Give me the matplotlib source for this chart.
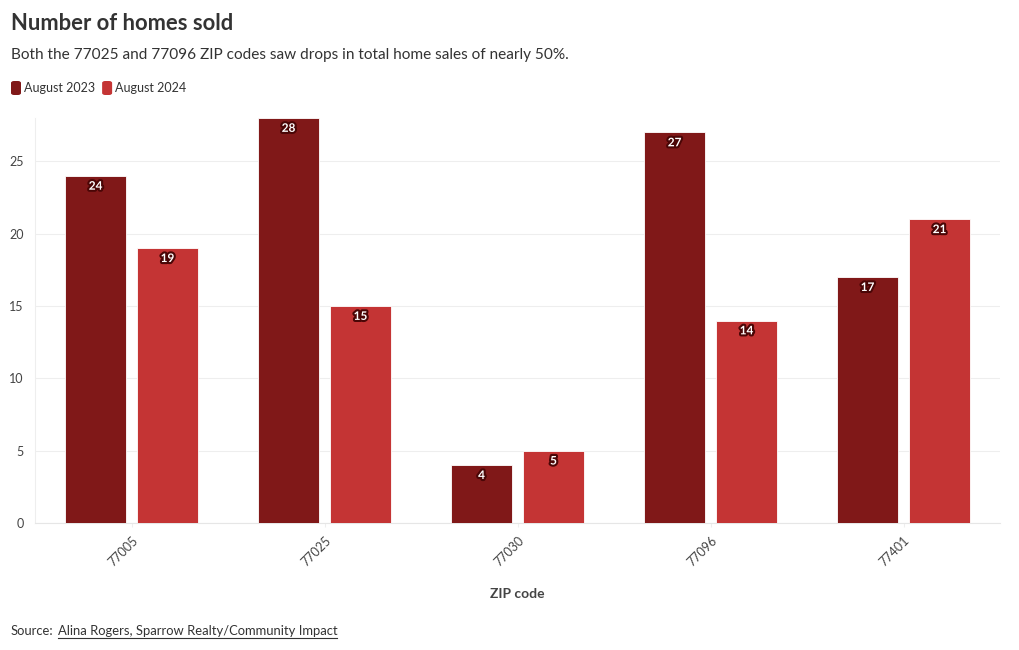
import matplotlib
matplotlib.use("Agg")
import matplotlib.pyplot as plt
import matplotlib.patheffects as pe
from matplotlib.patches import FancyBboxPatch
import numpy as np

plt.rcParams['font.family'] = ['Lato', 'DejaVu Sans']

zips = ["77005", "77025", "77030", "77096", "77401"]
aug2023 = [24, 28, 4, 27, 17]
aug2024 = [19, 15, 5, 14, 21]
series_names = ["August 2023", "August 2024"]
colors = ["#801818", "#c43434"]
yticks = [0, 5, 10, 15, 20, 25]

fig = plt.figure(figsize=(10.2, 6.5), dpi=100)
ax = fig.add_axes([35/1020, 127/650, 965/1020, 405/650])

x = np.arange(len(zips))
w = 61/193
off = 36/193
bars1 = ax.bar(x - off, aug2023, width=w, color=colors[0], edgecolor='white', linewidth=0.6, zorder=3)
bars2 = ax.bar(x + off, aug2024, width=w, color=colors[1], edgecolor='white', linewidth=0.6, zorder=3)

for bars, vals in ((bars1, aug2023), (bars2, aug2024)):
    for b, v in zip(bars, vals):
        ax.annotate(str(v), (b.get_x() + b.get_width()/2, v), xytext=(0, -3.5),
                    textcoords='offset points', ha='center', va='top',
                    color='white', fontsize=8.5, fontweight='bold', zorder=5,
                    path_effects=[pe.withStroke(linewidth=3, foreground='#4a0606')])

ax.set_xlim(-0.5, len(zips) - 0.5)
ax.set_ylim(0, 28)
ax.set_yticks(yticks)
ax.set_xticks(x)
ax.set_xticklabels(zips, rotation=45, ha='right', rotation_mode='anchor', fontsize=9, color='#444444')
ax.tick_params(axis='y', length=0, labelsize=9, labelcolor='#444444', pad=8)
ax.tick_params(axis='x', length=3, color='#eeeeee', pad=5)
ax.grid(axis='y', color='#eeeeee', linewidth=0.8, zorder=0)
for s in ['top', 'right']:
    ax.spines[s].set_visible(False)
ax.spines['left'].set_color('#eeeeee')
ax.spines['bottom'].set_color('#e6e6e6')
ax.set_xlabel("ZIP code", fontsize=10, fontweight='bold', color='#444444', labelpad=14)

fig.text(11/1020, 1 - 24/650, "Number of homes sold", fontsize=15.8, fontweight='bold',
         color='#333333', va='center', ha='left')
fig.text(11/1020, 1 - 55/650, "Both the 77025 and 77096 ZIP codes saw drops in total home sales of nearly 50%.",
         fontsize=11.1, color='#333333', va='center', ha='left')

# legend
lx = 11
for name, c in zip(series_names, colors):
    fig.patches.append(FancyBboxPatch((lx/1020, 1 - 95/650), 10/1020, 14/650,
                                      boxstyle="round,pad=0,rounding_size=0.003",
                                      transform=fig.transFigure, facecolor=c, edgecolor='none'))
    t = fig.text((lx + 13)/1020, 1 - 88/650, name, fontsize=9, color='#333333', va='center', ha='left')
    fig.canvas.draw()
    bb = t.get_window_extent()
    lx = bb.x1 + 7

s1 = fig.text(11/1020, 1 - 631/650, "Source:", fontsize=9.4, color='#333333', va='center', ha='left')
fig.canvas.draw()
b1 = s1.get_window_extent()
src = fig.text((b1.x1 + 4)/1020, 1 - 631/650, "Alina Rogers, Sparrow Realty/Community Impact", fontsize=9.4,
               color='#333333', va='center', ha='left')
fig.canvas.draw()
bb = src.get_window_extent()
fig.add_artist(plt.Line2D([bb.x0/1020, bb.x1/1020], [(650-638)/650, (650-638)/650],
                          transform=fig.transFigure, color='#333333', linewidth=0.8))

fig.savefig("out.png", dpi=100)
